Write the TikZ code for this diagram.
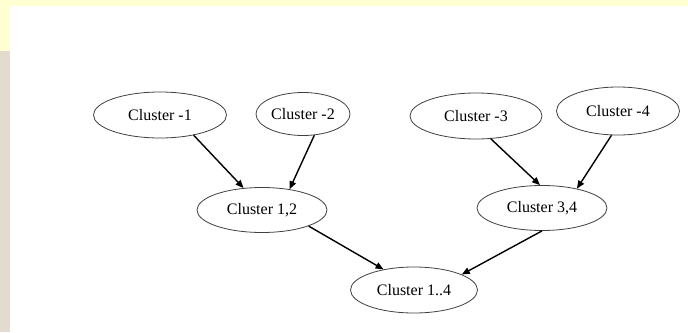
\documentclass[tikz,border=0pt]{standalone}
\usepackage{fontspec}
\setmainfont{Liberation Serif}
\usepackage{xcolor}
\usepackage{tikz}
\usetikzlibrary{arrows.meta, shapes.geometric}

\definecolor{bandyellow}{HTML}{FFFFD2}
\definecolor{paper}{HTML}{E3DCCE}

\begin{document}
\begin{tikzpicture}[x=1pt, y=-1pt,
    cluster/.style={ellipse, draw=black!75, line width=0.8pt, inner sep=0pt,
        minimum width=130pt, minimum height=45pt, font=\fontsize{16}{18}\selectfont},
    link/.style={-{Triangle[length=8pt, width=6.5pt]}, line width=1.4pt}]
    \useasboundingbox (0,0) rectangle (688,332);

    % slide background strips
    \fill[bandyellow] (0,0) rectangle (688,6);
    \fill[bandyellow] (0,0) rectangle (10,51);
    \fill[paper] (0,51) rectangle (10,332);

    % leaf clusters
    \node[cluster, minimum width=133pt, minimum height=46pt] (c1) at (160,115) {Cluster -1};
    \node[cluster, minimum width=94pt, minimum height=43pt] (c2) at (303,114) {Cluster -2};
    \node[cluster, minimum width=132pt, minimum height=46pt] (c3) at (476,116) {Cluster -3};
    \node[cluster, minimum width=123pt, minimum height=48pt] (c4) at (618,111) {Cluster -4};

    % merged clusters
    \node[cluster] (c12) at (262,210) {Cluster 1,2};
    \node[cluster] (c34) at (542,208) {Cluster 3,4};
    \node[cluster, minimum width=127pt, minimum height=46pt] (c14) at (414,290) {Cluster 1..4};

    % merges
    \draw[link] (c1.-31) -- (c12.130);
    \draw[link] (c2.-62) -- (c12.37);
    \draw[link] (c3.-57) -- (c34.95);
    \draw[link] (c4.-105) -- (c34.29);
    \draw[link] (c12.-19) -- (c14.146);
    \draw[link] (c34.-90) -- (c14.18);
\end{tikzpicture}
\end{document}
